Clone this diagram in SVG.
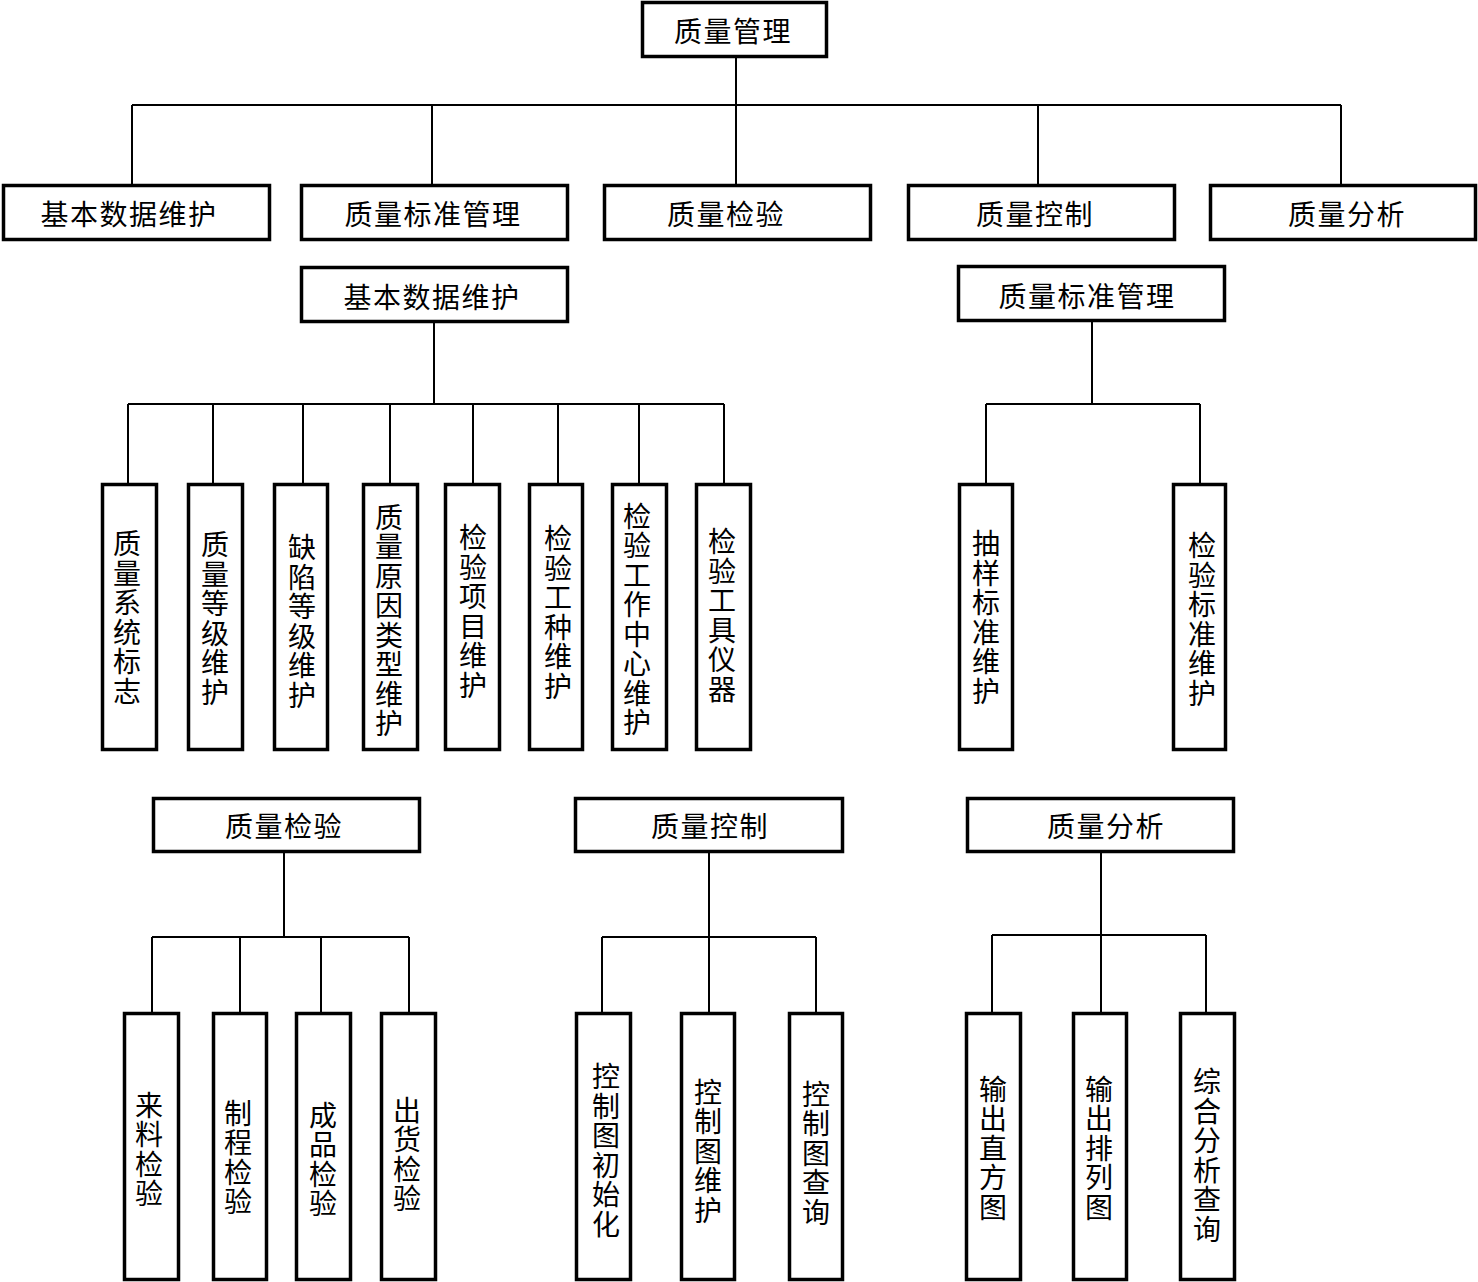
<svg xmlns="http://www.w3.org/2000/svg" width="1478" height="1282" viewBox="0 0 1478 1282">
<style>
.box{fill:#fff;stroke:#000;stroke-width:3.5}
.ln{fill:none;stroke:#000;stroke-width:2}
text{font-family:"Noto Sans CJK SC","Noto Sans",sans-serif;font-size:28px;fill:#000;letter-spacing:1.5px}
.h{text-anchor:middle;dominant-baseline:central}
.v{writing-mode:vertical-rl;text-anchor:middle}
</style>
<rect width="1478" height="1282" fill="#fff"/>
<g id="connectors">
<path class="ln" d="M736 58V105M132 105H1341M132 105V184M432 105V184M736 105V184M1038 105V184M1341 105V184"/>
<path class="ln" d="M434 323V404M128 404H724M128 404V483M213 404V483M303 404V483M390 404V483M473 404V483M558 404V483M639 404V483M724 404V483"/>
<path class="ln" d="M1092 322V404M986 404H1200M986 404V483M1200 404V483"/>
<path class="ln" d="M284 853V937M152 937H409M152 937V1012M240 937V1012M321 937V1012M409 937V1012"/>
<path class="ln" d="M709 853V937M602 937H816M602 937V1012M709 937V1012M816 937V1012"/>
<path class="ln" d="M1101 853V935M992 935H1206M992 935V1012M1101 935V1012M1206 935V1012"/>
</g>
<g id="root"><rect class="box" x="642.5" y="2.5" width="184" height="54"/><text class="h" x="733" y="30">质量管理</text></g>
<g id="l1-basic"><rect class="box" x="3.5" y="185.5" width="266" height="54"/><text class="h" x="129" y="213">基本数据维护</text></g>
<g id="l1-std"><rect class="box" x="301.5" y="185.5" width="266" height="54"/><text class="h" x="433" y="213">质量标准管理</text></g>
<g id="l1-insp"><rect class="box" x="604.5" y="185.5" width="266" height="54"/><text class="h" x="726" y="213">质量检验</text></g>
<g id="l1-ctrl"><rect class="box" x="908.5" y="185.5" width="266" height="54"/><text class="h" x="1035" y="213">质量控制</text></g>
<g id="l1-ana"><rect class="box" x="1210.5" y="185.5" width="265" height="54"/><text class="h" x="1347" y="213">质量分析</text></g>
<g id="h-basic"><rect class="box" x="301.5" y="267.5" width="266" height="54"/><text class="h" x="432" y="296">基本数据维护</text></g>
<g id="h-std"><rect class="box" x="958.5" y="266.5" width="266" height="54"/><text class="h" x="1087" y="295">质量标准管理</text></g>
<g id="b1"><rect class="box" x="102.5" y="484.5" width="54" height="265"/><text class="v" x="127" y="618">质量系统标志</text></g>
<g id="b2"><rect class="box" x="188.5" y="484.5" width="54" height="265"/><text class="v" x="215" y="619">质量等级维护</text></g>
<g id="b3"><rect class="box" x="274.5" y="484.5" width="53" height="265"/><text class="v" x="302" y="622">缺陷等级维护</text></g>
<g id="b4"><rect class="box" x="363.5" y="484.5" width="54" height="265"/><text class="v" x="389" y="621">质量原因类型维护</text></g>
<g id="b5"><rect class="box" x="445.5" y="484.5" width="54" height="265"/><text class="v" x="473" y="612">检验项目维护</text></g>
<g id="b6"><rect class="box" x="529.5" y="484.5" width="53" height="265"/><text class="v" x="558" y="613">检验工种维护</text></g>
<g id="b7"><rect class="box" x="612.5" y="484.5" width="54" height="265"/><text class="v" x="637" y="620">检验工作中心维护</text></g>
<g id="b8"><rect class="box" x="696.5" y="484.5" width="54" height="265"/><text class="v" x="722" y="616">检验工具仪器</text></g>
<g id="s1"><rect class="box" x="959.5" y="484.5" width="53" height="265"/><text class="v" x="986" y="618">抽样标准维护</text></g>
<g id="s2"><rect class="box" x="1173.5" y="484.5" width="52" height="265"/><text class="v" x="1202" y="620">检验标准维护</text></g>
<g id="h-insp"><rect class="box" x="153.5" y="798.5" width="266" height="53"/><text class="h" x="284" y="825">质量检验</text></g>
<g id="h-ctrl"><rect class="box" x="575.5" y="798.5" width="267" height="53"/><text class="h" x="710" y="825">质量控制</text></g>
<g id="h-ana"><rect class="box" x="967.5" y="798.5" width="266" height="53"/><text class="h" x="1106" y="825">质量分析</text></g>
<g id="i1"><rect class="box" x="124.5" y="1013.5" width="54" height="266"/><text class="v" x="149" y="1150">来料检验</text></g>
<g id="i2"><rect class="box" x="213.5" y="1013.5" width="53" height="266"/><text class="v" x="238" y="1158">制程检验</text></g>
<g id="i3"><rect class="box" x="296.5" y="1013.5" width="54" height="266"/><text class="v" x="323" y="1160">成品检验</text></g>
<g id="i4"><rect class="box" x="381.5" y="1013.5" width="54" height="266"/><text class="v" x="407" y="1155">出货检验</text></g>
<g id="c1"><rect class="box" x="576.5" y="1013.5" width="54" height="266"/><text class="v" x="606" y="1151">控制图初始化</text></g>
<g id="c2"><rect class="box" x="681.5" y="1013.5" width="53" height="266"/><text class="v" x="708" y="1152">控制图维护</text></g>
<g id="c3"><rect class="box" x="789.5" y="1013.5" width="53" height="266"/><text class="v" x="816" y="1154">控制图查询</text></g>
<g id="a1"><rect class="box" x="966.5" y="1013.5" width="54" height="266"/><text class="v" x="993" y="1149">输出直方图</text></g>
<g id="a2"><rect class="box" x="1073.5" y="1013.5" width="53" height="266"/><text class="v" x="1099" y="1149">输出排列图</text></g>
<g id="a3"><rect class="box" x="1180.5" y="1013.5" width="54" height="266"/><text class="v" x="1207" y="1156">综合分析查询</text></g>
</svg>
